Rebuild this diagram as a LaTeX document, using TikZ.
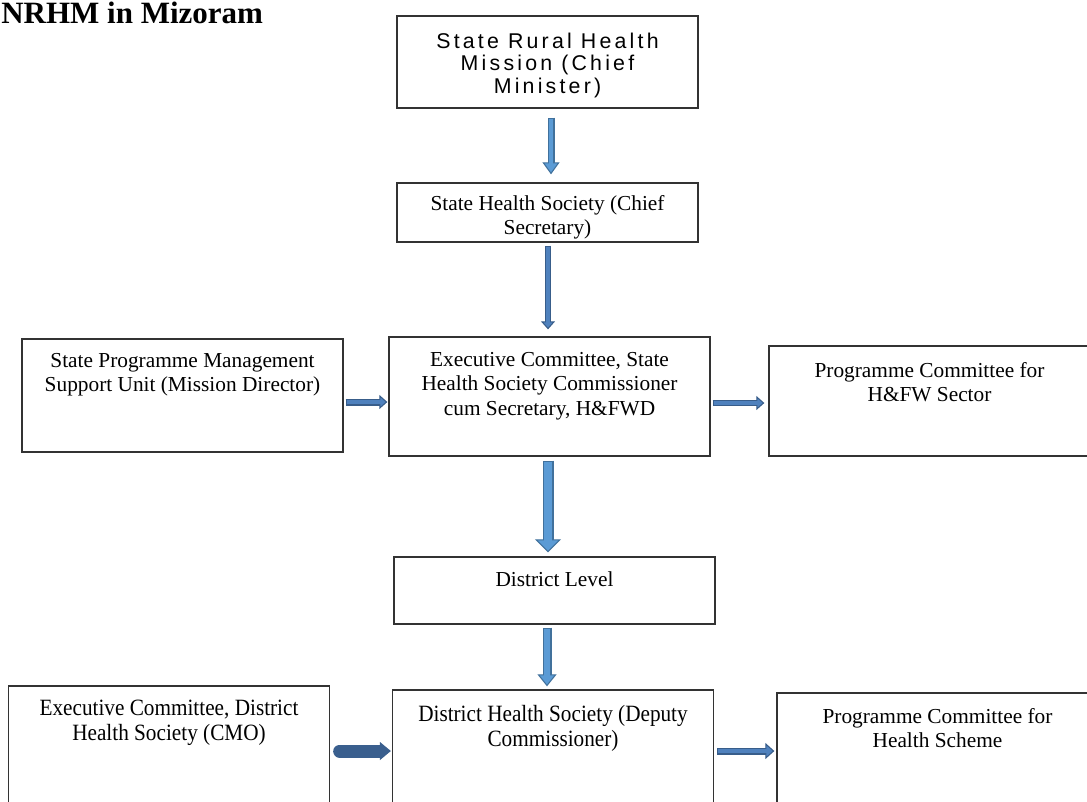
\documentclass[tikz,border=0pt]{standalone}
\usepackage{fontspec}
\setmainfont{Liberation Serif}
\newfontfamily\spacedsans[LetterSpace=15]{Liberation Sans}
\newfontfamily\tallserif[FakeStretch=0.91]{Liberation Serif}
\usetikzlibrary{positioning,calc,arrows.meta}
\definecolor{paleblue}{HTML}{5B9BD5}
\definecolor{paleedge}{HTML}{41719C}
\definecolor{midblue}{HTML}{4F81BD}
\definecolor{midedge}{HTML}{385D8A}
\definecolor{deepblue}{HTML}{3A5F8E}

\begin{document}
\begin{tikzpicture}[
    x=0.75pt, y=-0.75pt,
    unit/.style={
        draw=black!80,
        line width=1pt,
        minimum width=240.75pt,
        inner sep=0pt,
    },
    caption/.style={
        font=\fontsize{16}{18.4}\selectfont,
        align=center,
        inner sep=0pt,
    },
    tallcaption/.style={
        font=\tallserif\fontsize{17.5}{18.8}\selectfont,
        align=center,
        inner sep=0pt,
    },
    blockarrow/.style n args={5}{
        line width=#1, draw=#5,
        -{Triangle[width=#2, length=#3, fill=#4, line width=0.8pt]},
        postaction={draw=#4, line width=#1-1.6pt, -, shorten <=0.8pt, shorten >=#3-1.5pt},
    },
    pale/.style n args={3}{blockarrow={#1}{#2}{#3}{paleblue}{paleedge}},
    slim/.style n args={3}{blockarrow={#1}{#2}{#3}{midblue}{midedge}},
]
\clip (0,0) rectangle (1087,801);

\node[font=\bfseries\fontsize{23.25}{28}\selectfont, anchor=base west, inner sep=0pt] (title) at (1,23) {NRHM in Mizoram};

% state level
\node[unit, minimum width=225.75pt, minimum height=69pt] (srhm) at (547.5,62) {};
\node[caption, font=\spacedsans\fontsize{16}{17}\selectfont, below=12.75pt of srhm.north] (srhm-text) {State Rural Health\\Mission (Chief\\Minister)};

\node[unit, minimum width=225.75pt, minimum height=44.25pt] (shs) at (547.5,212.5) {};
\node[caption, below=9.4pt of shs.north] (shs-text) {State Health Society (Chief\\Secretary)};

\node[unit, minimum height=89.25pt] (exec) at (549.5,396.5) {};
\node[caption, below=11.6pt of exec.north] (exec-text) {Executive Committee, State\\Health Society Commissioner\\cum Secretary, H\&FWD};

\node[unit, minimum height=84.75pt] (spmsu) at (182.5,395.5) {};
\node[caption, below=10.9pt of spmsu.north] (spmsu-text) {State Programme Management\\Support Unit (Mission Director)};

\node[unit, minimum height=82.5pt] (pcfw) at (929.5,401) {};
\node[caption, below=12.4pt of pcfw.north] (pcfw-text) {Programme Committee for\\H\&FW Sector};

% district level
\node[unit, minimum height=50.25pt] (district) at (554.5,590.5) {};
\node[caption, below=11.6pt of district.north] (district-text) {District Level};

\node[unit, minimum height=89.25pt] (cmo) at (169,745.5) {};
\node[tallcaption, below=10.5pt of cmo.north] (cmo-text) {Executive Committee, District\\Health Society (CMO)};

\node[unit, minimum height=90pt] (dhs) at (553,750) {};
\node[tallcaption, below=12pt of dhs.north] (dhs-text) {District Health Society (Deputy\\Commissioner)};

\node[unit, minimum height=89.25pt] (pchs) at (937.5,752.5) {};
\node[caption, below=11.6pt of pchs.north] (pchs-text) {Programme Committee for\\Health Scheme};

% arrows
\draw[pale={5.25pt}{12.75pt}{9pt}] ($(srhm.south)+(3.5,9)$) -- ($(srhm.south |- shs.north)+(3.5,-8)$);
\draw[slim={4.5pt}{10.5pt}{6pt}] ($(shs.south)+(0.5,3)$) -- ($(shs.south |- exec.north)+(0.5,-7)$);
\draw[slim={5.25pt}{10.5pt}{6pt}] ($(spmsu.east)+(2,6.5)$) -- ($(spmsu.east -| exec.west)+(-1,6.5)$);
\draw[slim={4.5pt}{10.5pt}{6pt}] ($(exec.east)+(2,6.5)$) -- ($(exec.east -| pcfw.west)+(-4,6.5)$);
\draw[pale={8.25pt}{19.5pt}{9.75pt}] ($(exec.south)+(-1.5,4)$) -- ($(exec.south |- district.north)+(-1.5,-4)$);
\draw[pale={6.75pt}{14.25pt}{9pt}] ($(district.south)+(-7.5,3)$) -- ($(district.south |- dhs.north)+(-7.5,-3)$);
\draw[blockarrow={9.75pt}{13.5pt}{8.25pt}{deepblue}{deepblue}, line cap=round] ($(cmo.east)+(9.5,5.5)$) -- ($(cmo.east -| dhs.west)+(-1,5.5)$);
\draw[slim={5.25pt}{12pt}{6.75pt}] ($(dhs.east)+(3,1)$) -- ($(dhs.east -| pchs.west)+(-2,1)$);

\end{tikzpicture}
\end{document}
